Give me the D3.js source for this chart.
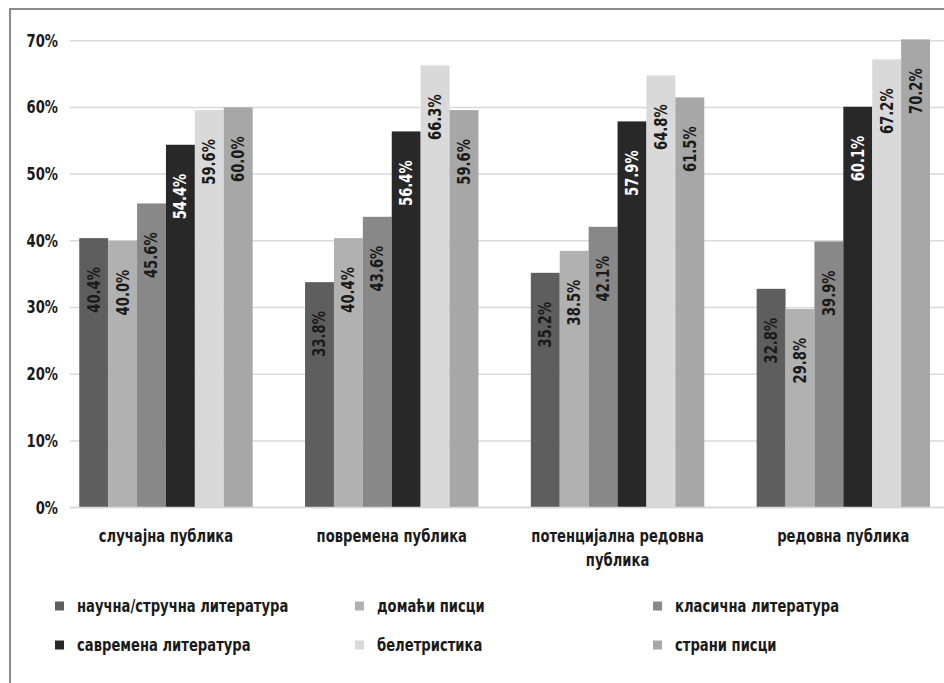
<!DOCTYPE html>
<html><head><meta charset="utf-8">
<script src="https://cdn.jsdelivr.net/npm/d3@7"></script>
<style>
html,body{margin:0;padding:0;background:#fff;}
svg{display:block;}
text{font-family:"Liberation Sans Narrow","Arial Narrow","DejaVu Sans Condensed",sans-serif;font-weight:bold;}
</style></head>
<body>
<svg id="chart" width="944" height="683"></svg>
<script>
const categories = ["случајна публика","повремена публика","потенцијална редовна публика","редовна публика"];
const seriesNames = ["научна/стручна литература","домаћи писци","класична литература","савремена литература","белетристика","страни писци"];
const naucna = [40.4, 33.8, 35.2, 32.8];
const domaci = [40.0, 40.4, 38.5, 29.8];
const klasicna = [45.6, 43.6, 42.1, 39.9];
const savremena = [54.4, 56.4, 57.9, 60.1];
const beletristika = [59.6, 66.3, 64.8, 67.2];
const strani = [60.0, 59.6, 61.5, 70.2];
const tickValues = [0, 10, 20, 30, 40, 50, 60, 70];
const colors = ["#5e5e5e","#b1b1b1","#888888","#282828","#d9d9d9","#a7a7a7"];
const labelColors = ["#1a1a1a","#1a1a1a","#1a1a1a","#ffffff","#1a1a1a","#1a1a1a"];

const SX = 0.86; // horizontal condensing of text glyphs
const FS = 17;

const seriesValues = [naucna, domaci, klasicna, savremena, beletristika, strani];
const svg = d3.select("#chart");
svg.append("rect").attr("width",944).attr("height",683).attr("fill","#fff");
// outer frame
svg.append("rect").attr("x",10).attr("y",9).attr("width",960).attr("height",700)
  .attr("fill","none").attr("stroke","#8c8c8c").attr("stroke-width",2);

const y = d3.scaleLinear().domain([0,70]).range([507.6, 40.7]);
const x0 = d3.scaleBand().domain(categories).range([70, 939.3]).paddingInner(0.232).paddingOuter(0.041);
const x1 = d3.scaleBand().domain(seriesNames).range([0, x0.bandwidth()]).padding(0);

// gridlines
svg.append("g").selectAll("line").data(tickValues).join("line")
  .attr("x1",70).attr("x2",944).attr("y1",d=>y(d)).attr("y2",d=>y(d))
  .attr("stroke","#d9d9d9").attr("stroke-width",1.5);

// y axis labels
const yAxis = d3.axisLeft(y).tickValues(tickValues).tickFormat(d=>d+"%").tickSize(0).tickPadding(0);
const ya = svg.append("g").attr("transform","translate(58,0)").call(yAxis);
ya.select(".domain").remove();
ya.selectAll("text").attr("font-size",FS).attr("fill","#1a1a1a")
  .attr("font-family",null).attr("x",0).attr("transform",`scale(${SX},1)`);

// bars
const groups = svg.append("g").selectAll("g").data(categories).join("g")
  .attr("transform",d=>`translate(${x0(d)},0)`);
groups.each(function(cat, ci){
  const g = d3.select(this);
  const data = seriesNames.map((s,si)=>({s, si, v: seriesValues[si][ci]}));
  g.selectAll("rect").data(data).join("rect")
    .attr("x",d=>x1(d.s)).attr("width",x1.bandwidth())
    .attr("y",d=>y(d.v)).attr("height",d=>y(0)-y(d.v))
    .attr("fill",d=>colors[d.si]);
  g.selectAll("text").data(data).join("text")
    .attr("transform",d=>`translate(${x1(d.s)+x1.bandwidth()/2},${y(d.v)+29}) rotate(-90) scale(${SX},1)`)
    .attr("text-anchor","end").attr("dy","0.35em")
    .attr("font-size",FS).attr("fill",d=>labelColors[d.si])
    .text(d=>d.v.toFixed(1)+"%");
});

// x axis line
svg.append("line").attr("x1",70).attr("x2",944).attr("y1",y(0)).attr("y2",y(0))
  .attr("stroke","#d9d9d9").attr("stroke-width",1.5);

// category labels (wrapped)
const xAxis = d3.axisBottom(x0).tickSize(0).tickPadding(0);
const xa = svg.append("g").attr("transform",`translate(0,${y(0)})`).call(xAxis);
xa.select(".domain").remove();
xa.selectAll("text").attr("font-size",FS).attr("fill","#1a1a1a").attr("font-family",null)
  .attr("transform",`scale(${SX},1)`)
  .each(function(d){
    const t = d3.select(this);
    const words = d.split(" ");
    t.text(null).attr("y",null).attr("dy",null);
    let line = [], lines = [];
    const tmp = t.append("tspan");
    words.forEach(w=>{
      line.push(w);
      tmp.text(line.join(" "));
      if (tmp.node().getComputedTextLength()*SX > 190 && line.length>1){
        line.pop(); lines.push(line.join(" ")); line=[w];
      }
    });
    lines.push(line.join(" "));
    tmp.remove();
    lines.forEach((l,i)=>t.append("tspan").attr("x",0).attr("y",34+i*24).text(l));
  });

// legend
const leg = svg.append("g");
const cols = [55, 355, 653], rows = [606, 645];
seriesNames.forEach((s,i)=>{
  const cx = cols[i%3], cy = rows[Math.floor(i/3)];
  leg.append("rect").attr("x",cx).attr("y",cy-4.5).attr("width",9).attr("height",9).attr("fill",colors[i]);
  leg.append("text").attr("transform",`translate(${cx+22},${cy}) scale(${SX},1)`).attr("dy","0.35em")
    .attr("font-size",FS).attr("fill","#1a1a1a").text(s);
});
</script>
</body></html>
